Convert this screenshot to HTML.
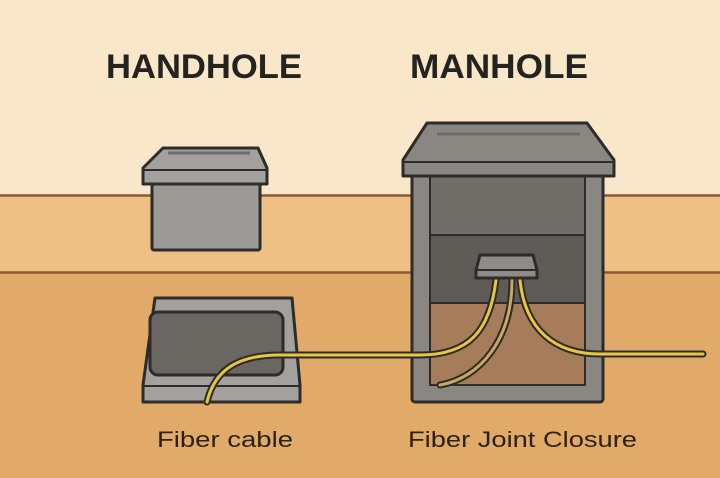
<!DOCTYPE html>
<html><head><meta charset="utf-8"><style>
html,body{margin:0;padding:0;width:720px;height:478px;overflow:hidden}
svg{display:block}
</style></head><body>
<svg width="720" height="478" viewBox="0 0 720 478" xmlns="http://www.w3.org/2000/svg">
<rect x="0" y="0" width="720" height="196" fill="#f9e7ca"/>
<rect x="0" y="196" width="720" height="77" fill="#efc083"/>
<rect x="0" y="273" width="720" height="205" fill="#e2aa68"/>
<line x1="0" y1="195.5" x2="720" y2="195.5" stroke="#8a5a34" stroke-width="2.5"/>
<line x1="0" y1="272.5" x2="720" y2="272.5" stroke="#8a5a34" stroke-width="2.5"/>

<g font-family="Liberation Sans, sans-serif" font-weight="bold" fill="#25231f" font-size="34">
<text x="204" y="78" text-anchor="middle" textLength="196" lengthAdjust="spacingAndGlyphs">HANDHOLE</text>
<text x="499" y="78" text-anchor="middle" textLength="178" lengthAdjust="spacingAndGlyphs">MANHOLE</text>
</g>
<g font-family="Liberation Sans, sans-serif" fill="#2a2218" font-size="22">
<text x="157" y="447" textLength="136" lengthAdjust="spacingAndGlyphs">Fiber cable</text>
<text x="408" y="447" textLength="229" lengthAdjust="spacingAndGlyphs">Fiber Joint Closure</text>
</g>

<g stroke="#2e2c2a" stroke-width="3" stroke-linejoin="round">
<!-- handhole box -->
<rect x="152" y="184" width="108" height="66" rx="2" fill="#9d9b97"/>
<path d="M163 148 L258 148 L267 168 L267 184 L143 184 L143 168 Z" fill="#a3a19d"/>
<path d="M143 170 L267 170" fill="none" stroke-width="2"/>
<!-- handhole buried -->
<path d="M155 298 L292 298 L300 385 L300 402 L143 402 L143 385 Z" fill="#a3a19d"/>
<path d="M143 386 L300 386" fill="none" stroke-width="2"/>
<rect x="150" y="312" width="133" height="63" rx="8" fill="#6a6763"/>
<!-- manhole -->
<rect x="412" y="174" width="191" height="228" rx="3" fill="#8a8783"/>
<rect x="430" y="175" width="155" height="60" fill="#716d68" stroke-width="2"/>
<rect x="430" y="235" width="155" height="68" fill="#5f5c58" stroke-width="2"/>
<rect x="430" y="303" width="155" height="82" fill="#a67c5b" stroke-width="2"/>
<path d="M427 123 L587 123 L614 160 L614 176 L403 176 L403 160 Z" fill="#8a8783"/>
<path d="M403 162 L614 162" fill="none" stroke-width="2"/>
</g>
<line x1="168" y1="153" x2="250" y2="153" stroke="#6d6b68" stroke-width="3"/>
<line x1="437" y1="134" x2="580" y2="134" stroke="#6d6b68" stroke-width="3"/>

<!-- cables -->
<g fill="none" stroke-linecap="round">
<path d="M207 402 C215 368 240 355 280 355 L420 355 C470 355 490 330 496 280" stroke="#2e2c2a" stroke-width="7"/>
<path d="M207 402 C215 368 240 355 280 355 L420 355 C470 355 490 330 496 280" stroke="#e9c640" stroke-width="3"/>
<path d="M512 280 C512 340 480 378 440 385" stroke="#2e2c2a" stroke-width="7"/>
<path d="M512 280 C512 340 480 378 440 385" stroke="#c9a860" stroke-width="3"/>
<path d="M520 280 C525 330 555 354 600 354 L703 354" stroke="#2e2c2a" stroke-width="7"/>
<path d="M520 280 C525 330 555 354 600 354 L703 354" stroke="#e9c640" stroke-width="3"/>
</g>
<!-- closure -->
<path d="M480 255 L533 255 L537 270 L537 278 L476 278 L476 270 Z" fill="#8f8c88" stroke="#2e2c2a" stroke-width="3" stroke-linejoin="round"/>
<line x1="476" y1="270" x2="537" y2="270" stroke="#2e2c2a" stroke-width="2"/>
</svg>
</body></html>
